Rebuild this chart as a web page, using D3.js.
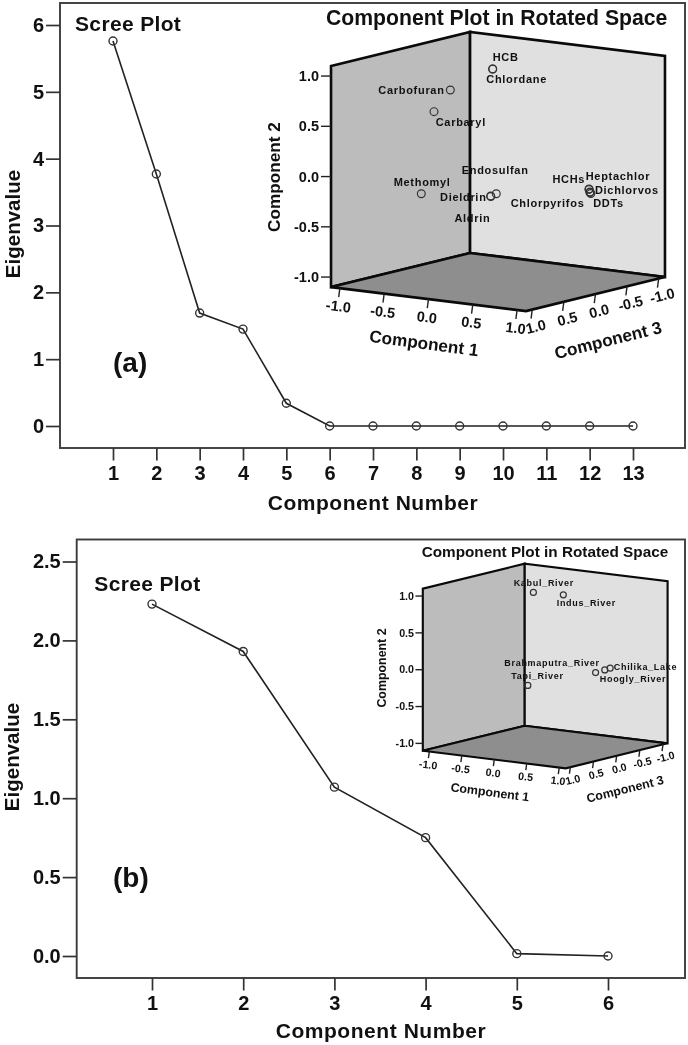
<!DOCTYPE html>
<html><head><meta charset="utf-8">
<script src="https://cdn.jsdelivr.net/npm/d3@7"></script>
<style>html,body{margin:0;background:#fff}svg{display:block;filter:blur(0.35px)}text{font-family:"Liberation Sans",Arial,sans-serif;font-weight:bold;fill:#111}</style>
</head><body><svg id="c" width="688" height="1045"></svg>
<script>
// ---- data ----
const screeA = [5.76,3.77,1.69,1.45,0.34,0,0,0,0,0,0,0,0];
const screeB = [2.23,1.93,1.07,0.75,0.015,0];
const ticksYA = [0,1,2,3,4,5,6];
const ticksYB = [0,0.5,1,1.5,2,2.5];
const loadTicks = [-1,-0.5,0,0.5,1];
const namesA = ["HCB","Chlordane","Carbofuran","Carbaryl","Endosulfan","Methomyl","Dieldrin","Aldrin","Chlorpyrifos","HCHs","Heptachlor","Dichlorvos","DDTs"];
const c1A = [-0.274,-0.274,-0.324,-0.437,0.052,-0.509,-0.011,-0.01,0.61,0.60,0.585,0.61,0.62];
const c2A = [0.944,0.944,0.822,0.61,-0.2,-0.2,-0.23,-0.235,-0.23,-0.206,-0.206,-0.235,-0.244];
const c3A = [-0.3,-0.3,0.3,0.4,0.1,0.5,0.1,0.1,-0.6,-0.6,-0.62,-0.6,-0.6];
const namesB = ["Kabul_River","Indus_River","Brahmaputra_River","Tapi_River","Chilika_Lake","Hoogly_River"];
const c1B = [0.032,0.279,0.562,0.018,0.715,0.632];
const c2B = [1.049,0.996,-0.075,-0.2,-0.014,-0.046];
const c3B = [0.3,0,-0.3,0.4,-0.4,-0.4];
// ---- label placement (px from the point) ----
const offA = [[0,-11.7],[-6.4,10],[-72,0],[1.7,10.6],[-34.6,-23.7],[-27.6,-11.3],[-50.7,1.3],[-36.4,21.5],[-79.3,10.7],[-36.7,-10.2],[-3.3,-12.7],[5,-2.5],[2.3,9.2]];
const offB = [[-19.7,-9.4],[-6.6,8.4],[-91.3,-10],[-16.6,-10],[3.6,-1],[-5,9]];

const svg = d3.select("#c");
const fmtLoad = t => d3.format(".1f")(t).replace("\u2212","-");

function scree(o){
  const g = svg.append("g");
  const x = d3.scaleLinear().domain([1,o.values.length]).range(o.xr);
  const y = d3.scaleLinear().domain(o.yd).range(o.yr);
  g.append("rect").attr("x",o.f[0]).attr("y",o.f[1]).attr("width",o.f[2]-o.f[0]).attr("height",o.f[3]-o.f[1])
    .attr("fill","none").attr("stroke","#3c3c3c").attr("stroke-width",1.9);
  const ax = g.append("g").attr("transform",`translate(0,${o.f[3]})`)
    .call(d3.axisBottom(x).tickValues(d3.range(1,o.values.length+1)).tickFormat(d3.format("d")).tickSize(12.5).tickPadding(5));
  const ay = g.append("g").attr("transform",`translate(${o.f[0]},0)`)
    .call(d3.axisLeft(y).tickValues(o.yt).tickFormat(d3.format(o.fmt)).tickSize(14).tickPadding(2));
  [ax,ay].forEach(a=>{a.select(".domain").remove();
    a.selectAll("line").attr("stroke","#333").attr("stroke-width",1.7);
    a.selectAll("text").style("font-size",o.tickFont+"px").attr("fill","#111");});
  g.append("path").datum(o.values).attr("fill","none").attr("stroke","#222").attr("stroke-width",1.6)
    .attr("d",d3.line().x((d,i)=>x(i+1)).y(d=>y(d)));
  g.selectAll("circle").data(o.values).join("circle").attr("cx",(d,i)=>x(i+1)).attr("cy",d=>y(d)).attr("r",4)
    .attr("fill","none").attr("stroke","#333").attr("stroke-width",1.4);
  g.append("text").text("Scree Plot").attr("x",o.sp[0]).attr("y",o.sp[1]).attr("dy","0.35em").style("font-size","21px").style("letter-spacing","0.35px");
  g.append("text").text(o.tag).attr("x",o.tp[0]).attr("y",o.tp[1]).attr("dy","0.35em").style("font-size","28px");
  g.append("text").text("Component Number").attr("x",o.xl[0]).attr("y",o.xl[1]).attr("dy","0.35em").attr("text-anchor","middle").style("font-size","21px").style("letter-spacing","0.55px");
  g.append("text").text("Eigenvalue").attr("transform",`translate(${o.yl[0]},${o.yl[1]}) rotate(-90)`).attr("dy","0.35em").attr("text-anchor","middle").style("font-size","20.5px");
}

function inset(o){
  const g = svg.append("g");
  const k = o.k;
  const E = 1.1;
  const xC1 = d3.scaleLinear().domain([-1,1]).range([-88.6*k,88.6*k]);
  const yC1 = d3.scaleLinear().domain([-1,1]).range([-10.9*k,10.9*k]);
  const xC3 = d3.scaleLinear().domain([-1,1]).range([63.2*k,-63.2*k]);
  const yC3 = d3.scaleLinear().domain([-1,1]).range([-15.5*k,15.5*k]);
  const yC2 = d3.scaleLinear().domain([-1,1]).range([100.5*k,-100.5*k]);
  const P = (a,b,c)=>[o.cx+xC1(a)+xC3(c), o.cy+yC1(a)+yC2(b)+yC3(c)];
  const poly = pts=>"M"+pts.map(p=>p.join(",")).join("L")+"Z";
  const lw = 2.6*(k<1?0.82:1);
  const face=(pts,fill)=>g.append("path").attr("d",poly(pts)).attr("fill",fill).attr("stroke","#0a0a0a").attr("stroke-width",lw).attr("stroke-linejoin","miter");
  face([P(-E,-E,E),P(-E,E,E),P(-E,E,-E),P(-E,-E,-E)],"#bcbcbc");
  face([P(-E,-E,-E),P(-E,E,-E),P(E,E,-E),P(E,-E,-E)],"#e0e0e0");
  face([P(-E,-E,E),P(-E,-E,-E),P(E,-E,-E),P(E,-E,E)],"#8e8e8e");
  const tick=(a,b,dx,dy)=>g.append("line").attr("x1",a[0]).attr("y1",a[1]).attr("x2",a[0]+dx).attr("y2",a[1]+dy).attr("stroke","#222").attr("stroke-width",1.4);
  loadTicks.forEach(t=>{
    const p=P(-E,t,E); tick(p,null,-10*k,0);
    g.append("text").text(fmtLoad(t)).attr("x",p[0]-12*k).attr("y",p[1]).attr("dy","0.35em").attr("text-anchor","end").style("font-size",o.tf+"px");
  });
  loadTicks.forEach(t=>{
    const p=P(t,-E,E); tick(p,null,-1.2*k,9*k);
    g.append("text").text(fmtLoad(t)).attr("transform",`translate(${p[0]-1.5*k},${p[1]+18*k}) rotate(7)`).attr("dy","0.35em").attr("text-anchor","middle").style("font-size",o.tf+"px");
  });
  loadTicks.forEach(t=>{
    const p=P(E,-E,t); tick(p,null,-1.2*k,9*k);
    g.append("text").text(fmtLoad(t)).attr("transform",`translate(${p[0]+3.5*k},${p[1]+17*k}) rotate(-14)`).attr("dy","0.35em").attr("text-anchor","middle").style("font-size",o.tf+"px");
  });
  g.append("text").text("Component 2").attr("transform",`translate(${o.l2[0]},${o.l2[1]}) rotate(-90)`).attr("dy","0.35em").attr("text-anchor","middle").style("font-size",o.af+"px");
  g.append("text").text("Component 1").attr("transform",`translate(${o.l1[0]},${o.l1[1]}) rotate(7.5)`).attr("dy","0.35em").attr("text-anchor","middle").style("font-size",o.af+"px");
  g.append("text").text("Component 3").attr("transform",`translate(${o.l3[0]},${o.l3[1]}) rotate(-14)`).attr("dy","0.35em").attr("text-anchor","middle").style("font-size",o.af+"px");
  g.append("text").text("Component Plot in Rotated Space").attr("x",o.title[0]).attr("y",o.title[1]).attr("dy","0.35em").style("font-size",o.titleF+"px");
  const pts=o.names.map((n,i)=>({n,p:P(o.c1[i],o.c2[i],o.c3[i]),off:o.off[i]}));
  g.selectAll("circle").data(pts).join("circle").attr("cx",d=>d.p[0]).attr("cy",d=>d.p[1]).attr("r",o.r)
    .attr("fill","none").attr("stroke","#333").attr("stroke-width",1.2);
  g.selectAll("text.lab").data(pts).join("text").attr("class","lab").text(d=>d.n)
    .attr("x",d=>d.p[0]+d.off[0]).attr("y",d=>d.p[1]+d.off[1]).attr("dy","0.35em")
    .style("font-size",o.lf+"px").style("letter-spacing",o.ls+"px");
}

scree({values:screeA,xr:[113,633],yd:[0,6],yr:[426,25],yt:ticksYA,fmt:"d",f:[60,3,685,448],tickFont:20,
  sp:[75,23.3],tag:"(a)",tp:[113,362],xl:[373,503],yl:[13,224]});
scree({values:screeB,xr:[152,608],yd:[0,2.5],yr:[956,561.5],yt:ticksYB,fmt:".1f",f:[76.7,539.5,685,978],tickFont:20,
  sp:[94.3,584],tag:"(b)",tp:[113,877],xl:[381,1031],yl:[12,757]});
inset({k:1,cx:498,cy:171.5,names:namesA,c1:c1A,c2:c2A,c3:c3A,off:offA,r:3.9,lf:11,ls:0.7,tf:14.5,af:17.2,titleF:21.2,
  title:[326,18],l2:[274,177],l1:[424,343],l3:[608,340]});
inset({k:0.733,cx:545.2,cy:666,names:namesB,c1:c1B,c2:c2B,c3:c3B,off:offB,r:3,lf:9,ls:0.7,tf:10.7,af:12.4,titleF:15.3,
  title:[421.7,551.7],l2:[382,668],l1:[490,792],l3:[625,789]});
</script></body></html>
